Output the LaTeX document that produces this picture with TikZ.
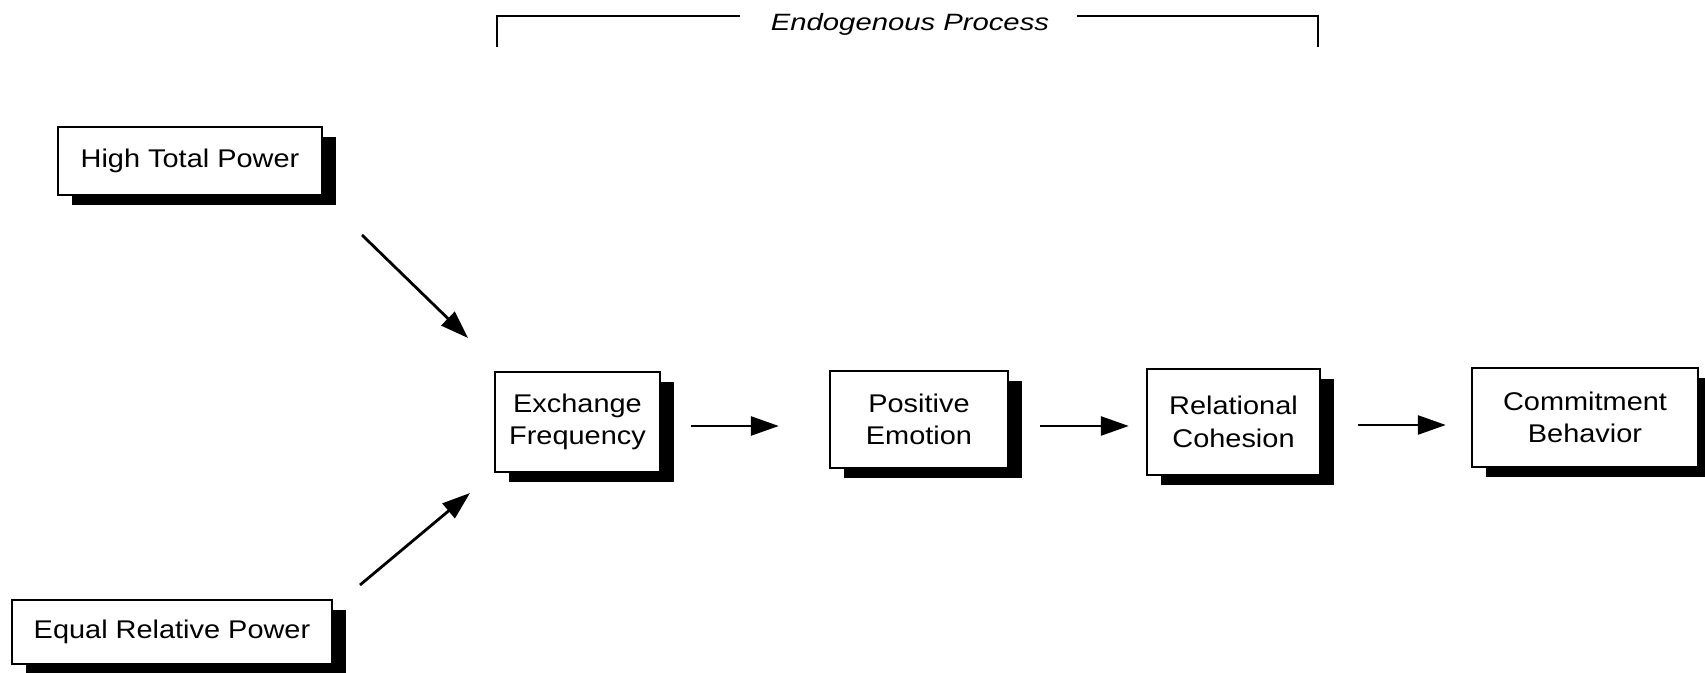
\documentclass[tikz,border=0pt]{standalone}
\usepackage{fontspec}
\setmainfont[FakeStretch=1.13]{Liberation Sans}
\newfontfamily\ttlfont[FakeStretch=1.24]{Liberation Sans}
\usetikzlibrary{arrows.meta,shadows}
\tikzset{
  boxnode/.style={draw=black, line width=1.2pt, fill=white, align=center,
    inner sep=2pt, font=\fontsize{12.8}{16.3}\selectfont,
    drop shadow={shadow xshift=7pt, shadow yshift=-5pt, fill=black, opacity=1}},
  arr/.style={line width=1.4pt, -{Triangle[length=14pt,width=9.5pt]}},
  brk/.style={line width=0.7pt}
}
\begin{document}
\begin{tikzpicture}[x=0.5pt,y=-0.5pt]
\useasboundingbox (0,0) rectangle (1705,673);
% boxes
\node[boxnode, minimum width=132pt, minimum height=34pt] (htp) at (190,161) {High Total Power};
\node[boxnode, minimum width=160pt, minimum height=32pt] (erp) at (172,632) {Equal Relative Power};
\node[boxnode, minimum width=82.5pt, minimum height=50pt] (ef) at (577.5,422) {Exchange\\Frequency};
\node[boxnode, minimum width=89pt, minimum height=48.5pt] (pe) at (919,419.5) {Positive\\Emotion};
\node[boxnode, minimum width=86.5pt, minimum height=53pt] (rc) at (1233.5,422) {Relational\\Cohesion};
\node[boxnode, minimum width=113pt, minimum height=49.5pt] (cb) at (1585,417.5) {Commitment\\Behavior};
% title bracket
\node[anchor=base, inner sep=0pt, font=\ttlfont\itshape\fontsize{11.8}{13}\selectfont] (ttl) at (910,31) {Endogenous Process};
\coordinate (tl) at (740,16);
\coordinate (bl) at (497,16);
\coordinate (blb) at (497,47);
\coordinate (tr) at (1077,16);
\coordinate (br) at (1318,16);
\coordinate (brb) at (1318,47);
\draw[brk] (tl) -- (bl) -- (blb);
\draw[brk] (tr) -- (br) -- (brb);
% diagonal arrows
\coordinate (h1) at (362,235);
\coordinate (h2) at (468,338);
\coordinate (e1) at (360,585);
\coordinate (e2) at (470,493);
\draw[arr] (h1) -- (h2);
\draw[arr] (e1) -- (e2);
% chain arrows
\draw[arr, shorten <=15pt, shorten >=25pt] (ef.east |- 0,426) -- (pe.west |- 0,426);
\draw[arr, shorten <=15.5pt, shorten >=8.5pt] (pe.east |- 0,426) -- (rc.west |- 0,426);
\draw[arr, shorten <=18.5pt, shorten >=12.5pt] (rc.east |- 0,425) -- (cb.west |- 0,425);
\end{tikzpicture}
\end{document}
